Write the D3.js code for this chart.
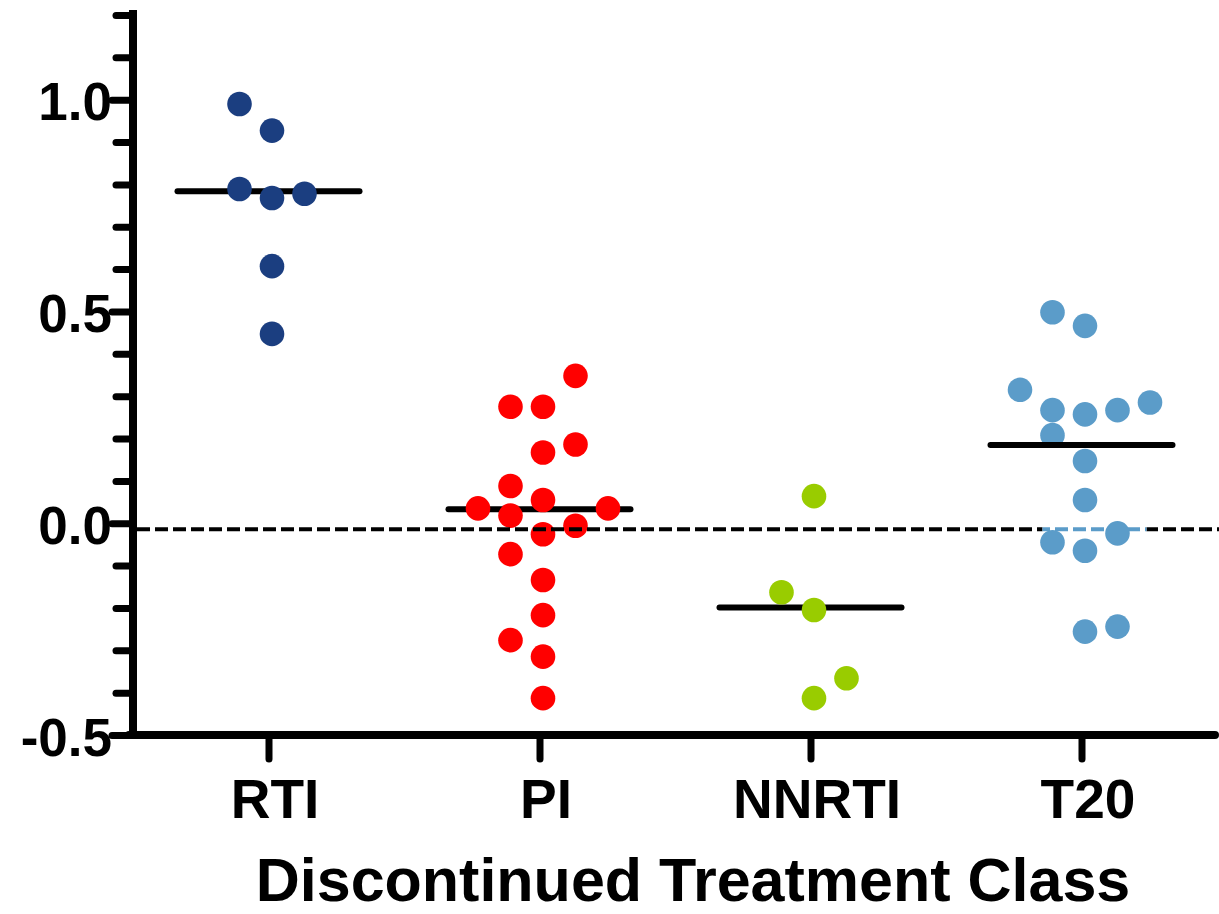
<!DOCTYPE html>
<html>
<head>
<meta charset="utf-8">
<script src="https://cdn.jsdelivr.net/npm/d3@7"></script>
<style>
  body { margin: 0; background: #fff; }
  svg { display: block; font-family: "Liberation Sans", Arial, sans-serif; font-weight: bold; }
</style>
</head>
<body>
<div id="chart-area"></div>
<script>
// categories and colours
var classes = ["RTI", "PI", "NNRTI", "T20"];
var classColors = ["#1b3e80", "#ff0000", "#99cc00", "#5b9cc9"];

// values, with column offset (in dot widths)
var rtiValues  = [0.990, 0.927, 0.789, 0.768, 0.778, 0.607, 0.447];
var rtiOffsets = [-1, 0, -1, 0, 1, 0, 0];

var piValues  = [0.348, 0.275, 0.275, 0.167, 0.186, 0.088, 0.055, 0.035, 0.018, 0.035, -0.006, -0.026, -0.073, -0.134, -0.217, -0.276, -0.315, -0.413];
var piOffsets = [1, -1, 0, 0, 1, -1, 0, -2, -1, 2, 1, 0, -1, 0, 0, -1, 0, 0];

var nnrtiValues  = [0.064, -0.163, -0.205, -0.366, -0.413];
var nnrtiOffsets = [0, -1, 0, 1, 0];

var t20Values  = [0.498, 0.466, 0.315, 0.267, 0.257, 0.267, 0.285, 0.208, 0.147, 0.055, -0.045, -0.065, -0.024, -0.256, -0.244];
var t20Offsets = [-1, 0, -2, -1, 0, 1, 2, -1, 0, 0, -1, 0, 1, 0, 1];

// median lines
var medians = [0.784, 0.033, -0.199, 0.185];

// reference (dashed) line
var refValue = -0.014;

// y ticks
var yTicks = [-0.5, -0.4, -0.3, -0.2, -0.1, 0.0, 0.1, 0.2, 0.3, 0.4, 0.5, 0.6, 0.7, 0.8, 0.9, 1.0, 1.1, 1.2];
var yLabelTicks = [-0.5, 0.0, 0.5, 1.0];

var xTitle = "Discontinued Treatment Class";

var width = 1219, height = 914;
var svg = d3.select("#chart-area").append("svg")
  .attr("width", width)
  .attr("height", height);

var x = d3.scalePoint()
  .domain(classes)
  .range([133, 1217])
  .padding(0.5);

var y = d3.scaleLinear()
  .domain([-0.5, 1.2])
  .range([735, 15]);

var color = d3.scaleOrdinal().domain(classes).range(classColors);

var dotStep = 32.5, dotShift = 3.5, radius = 12.3;

function makeGroup(name, values, offsets) {
  return values.map(function(v, i) {
    return {cls: name, value: v, offset: offsets[i]};
  });
}
var groups = [
  makeGroup("RTI", rtiValues, rtiOffsets),
  makeGroup("PI", piValues, piOffsets),
  makeGroup("NNRTI", nnrtiValues, nnrtiOffsets),
  makeGroup("T20", t20Values, t20Offsets)
];

function drawMedian(i) {
  svg.append("line")
    .attr("x1", x(classes[i]) - 91)
    .attr("x2", x(classes[i]) + 91)
    .attr("y1", y(medians[i]))
    .attr("y2", y(medians[i]))
    .attr("stroke", "#000")
    .attr("stroke-width", 6)
    .attr("stroke-linecap", "round");
}

function drawDots(pts) {
  svg.append("g").selectAll("circle")
    .data(pts)
    .enter()
    .append("circle")
    .attr("cx", function(d) { return x(d.cls) + dotShift + d.offset * dotStep; })
    .attr("cy", function(d) { return y(d.value); })
    .attr("r", radius)
    .attr("fill", function(d) { return color(d.cls); });
}

// RTI, PI, NNRTI: median under dots
for (var i = 0; i < 3; i++) {
  drawMedian(i);
  drawDots(groups[i]);
}

// dashed reference line
function refLine(stroke) {
  return svg.append("line")
    .attr("x1", 137).attr("x2", 1219)
    .attr("y1", y(refValue)).attr("y2", y(refValue))
    .attr("stroke", stroke)
    .attr("stroke-width", 4)
    .attr("stroke-dasharray", "13,5");
}
refLine("#000");

// the T20 column paints over part of the dashed line in its colour
svg.append("clipPath").attr("id", "t20clip")
  .append("rect")
  .attr("x", x("T20") - 39).attr("y", 0)
  .attr("width", 104).attr("height", height);
svg.append("rect")
  .attr("x", x("T20") - 39).attr("y", y(refValue) - 3)
  .attr("width", 104).attr("height", 6)
  .attr("fill", "#fff");
refLine(color("T20")).attr("clip-path", "url(#t20clip)");

drawDots(groups[3]);
drawMedian(3);

// y axis
var yAxis = d3.axisLeft(y)
  .tickValues(yTicks)
  .tickSize(20)
  .tickFormat(function(d) {
    var show = yLabelTicks.some(function(t) { return Math.abs(t - d) < 1e-9; });
    return show ? d.toFixed(1) : "";
  });

var yg = svg.append("g")
  .attr("transform", "translate(133,0)")
  .call(yAxis);
yg.select(".domain").remove();
yg.selectAll(".tick line")
  .attr("stroke", "#000")
  .attr("stroke-width", 7)
  .attr("stroke-linecap", "round")
  .attr("x2", function(d) { return Math.abs(d * 10) % 5 === 0 ? -21 : -17; });
yg.selectAll(".tick text")
  .attr("x", -21)
  .attr("dy", "0.38em")
  .attr("fill", "#000")
  .style("font-size", "53px")
  .style("font-family", "'Liberation Sans', Arial, sans-serif")
  .style("font-weight", "bold");

svg.append("line")
  .attr("x1", 133).attr("x2", 133)
  .attr("y1", 10).attr("y2", 739)
  .attr("stroke", "#000")
  .attr("stroke-width", 8);

// x axis
var xAxis = d3.axisBottom(x).tickSize(24);
var xg = svg.append("g")
  .attr("transform", "translate(0,735)")
  .call(xAxis);
xg.select(".domain").remove();
xg.selectAll(".tick line")
  .attr("stroke", "#000")
  .attr("stroke-width", 7)
  .attr("stroke-linecap", "round");
xg.selectAll(".tick text")
  .attr("x", 6)
  .attr("y", 83)
  .attr("dy", 0)
  .attr("fill", "#000")
  .style("font-size", "55px")
  .style("font-family", "'Liberation Sans', Arial, sans-serif")
  .style("font-weight", "bold");

svg.append("line")
  .attr("x1", 129).attr("x2", 1215)
  .attr("y1", 735).attr("y2", 735)
  .attr("stroke", "#000")
  .attr("stroke-width", 8)
  .attr("stroke-linecap", "round");

// axis title
svg.append("text")
  .attr("x", 693)
  .attr("y", 901)
  .attr("text-anchor", "middle")
  .style("font-size", "61px")
  .text(xTitle);
</script>
</body>
</html>
